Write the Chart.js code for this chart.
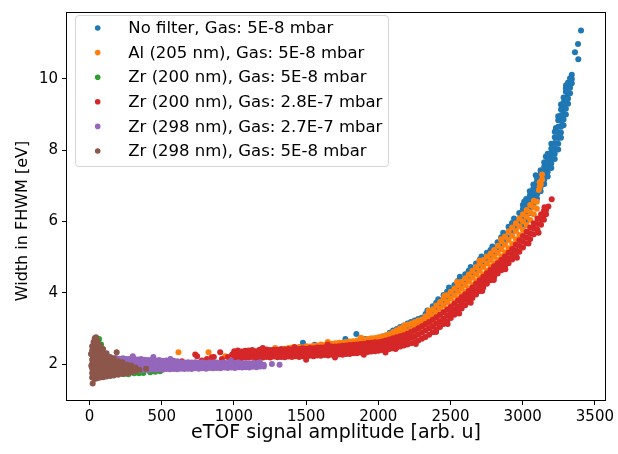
<!DOCTYPE html>
<html><head><meta charset="utf-8">
<script src="https://cdn.jsdelivr.net/npm/chart.js@4/dist/chart.umd.min.js"></script>
<style>html,body{margin:0;padding:0;background:#fff;}canvas{display:block;}</style>
</head><body>
<canvas id="c" width="618" height="454"></canvas>
<script>
const seriesLabels = [
  'No filter, Gas: 5E-8 mbar',
  'Al (205 nm), Gas: 5E-8 mbar',
  'Zr (200 nm), Gas: 5E-8 mbar',
  'Zr (200 nm), Gas: 2.8E-7 mbar',
  'Zr (298 nm), Gas: 2.7E-7 mbar',
  'Zr (298 nm), Gas: 5E-8 mbar'
];
const seriesColors = ['#1f77b4','#ff7f0e','#2ca02c','#d62728','#9467bd','#8c564b'];
const xTicks = [0,500,1000,1500,2000,2500,3000,3500];
const yTicks = [2,4,6,8,10];
const xTitle = 'eTOF signal amplitude [arb. u]';
const yTitle = 'Width in FHWM [eV]';

// Each row: [x, y1, y2, ...]  (points sharing the same signal amplitude)
const noFilter = [
  [1462,2.48],[1478,2.6],[1559,2.54],[1772,2.7],[1848,2.84],[1910,2.7],
  [2004,2.62,2.74],[2028,2.64,2.77],[2053,2.68,2.8],[2079,2.7,2.88],[2102,2.74,2.94],[2128,2.77,2.98],
  [2151,2.8,2.92,3.04],[2177,2.85,2.97,3.08],[2203,2.9,3.02,3.14],[2226,2.94,3.06,3.18],[2252,2.99,3.1,3.22],
  [2276,3.04,3.15,3.26],[2301,3.12,3.3],[2327,3.2,3.4],[2340,3.5],[2352,3.3,3.42],[2377,3.42,3.62],
  [2401,3.52,3.72],[2415,3.82],[2427,3.62,3.74],[2452,3.72,3.94],[2476,3.82,4.03],[2490,4.15],[2503,3.92,4.04],
  [2527,4.02,4.22],[2551,4.12,4.33],[2565,4.45],[2578,4.2,4.32],[2602,4.3,4.52],[2626,4.4,4.62],[2640,4.72],
  [2652,4.5,4.62],[2677,4.6,4.82],[2703,4.7,4.93],[2715,5.02],[2728,4.8,4.92],[2752,4.9,5.12],[2777,4.98,5.2],
  [2790,5.3],[2803,5.08,5.2],[2826,5.18,5.42],[2851,5.3,5.56],[2865,5.68],[2877,5.42,5.58],[2902,5.56,5.85],
  [2926,5.7,5.96],[2940,6.08],[2951,5.82,5.96],[2976,5.96,6.24],
  [3001,5.85,5.97,6.1,6.22,6.34,6.46],[3010,6.55],[3024,6.02,6.14,6.26,6.38,6.5,6.63],[3049,6.24,6.36,6.48,6.6,6.72,6.85],
  [3074,6.45,6.57,6.69,6.81,6.93,7.04],[3090,7.3],[3099,6.64,6.76,6.88,7.0,7.12,7.22],[3124,6.85,6.97,7.09,7.21,7.33,7.44],
  [3149,7.05,7.17,7.3,7.42,7.54,7.66],[3160,7.82],[3173,7.26,7.39,7.52,7.65,7.78,7.9],[3198,7.5,7.63,7.76,7.9,8.04,8.18],
  [3222,7.75,7.9,8.05,8.2,8.36,8.52],[3230,8.62],[3246,8.02,8.18,8.34,8.5,8.66,8.84,8.95],
  [3265,8.35,8.5,8.66,8.82,8.98,9.14,9.28],[3283,8.7,8.86,9.02,9.18,9.34,9.48],
  [3299,9.0,9.16,9.32,9.48,9.64,9.74],[3300,9.82],[3314,9.3,9.45,9.6,9.75,9.9],[3328,9.6,9.75,9.9,10.02],[3340,9.88,10.0,10.12],
  [3404,11.36],[3383,10.98],[3362,10.75],[3385,10.55]
];
const al205 = [
  [616,2.33],[824,2.33],[940,2.22],[1078,2.33],[1125,2.33],[1192,2.26],[1252,2.3],[1286,2.45],[1338,2.38],
  [1352,2.32,2.43],[1378,2.36,2.45],[1403,2.34,2.46],[1428,2.33,2.44],[1452,2.37,2.48],[1477,2.36,2.47],
  [1503,2.38,2.5],[1528,2.36,2.49],[1552,2.4,2.51],[1577,2.39,2.52],[1603,2.41,2.55],[1621,2.51],[1628,2.4,2.53],
  [1650,2.62],[1652,2.43,2.55],[1677,2.42,2.57],[1702,2.45,2.58],[1728,2.44,2.6],[1753,2.47,2.6],[1777,2.46,2.62],
  [1802,2.49,2.63],[1827,2.48,2.64],[1853,2.51,2.66],[1877,2.52,2.67],[1880,2.74],[1902,2.54,2.69],[1928,2.55,2.7],
  [1952,2.57,2.72],[1978,2.58,2.73],
  [2003,2.5,2.62,2.75],[2027,2.53,2.65,2.77],[2052,2.56,2.68,2.8],[2078,2.58,2.71,2.84],[2103,2.62,2.76,2.9],
  [2127,2.65,2.8,2.95],[2152,2.68,2.84,3.0],[2177,2.71,2.88,3.04],[2180,3.08],[2202,2.75,2.92,3.1],[2228,2.8,2.97,3.14],
  [2253,2.85,3.02,3.18],[2277,2.9,3.06,3.22],[2302,2.96,3.1,3.25],[2327,3.02,3.18,3.34],[2350,3.5],[2353,3.1,3.27,3.44],
  [2378,3.18,3.36,3.54],[2402,3.26,3.45,3.64],[2428,3.36,3.55,3.74],[2453,3.46,3.65,3.84],[2460,3.92],[2477,3.55,3.74,3.93],
  [2502,3.64,3.84,4.03],[2528,3.74,3.93,4.12],[2545,4.3],[2553,3.84,4.03,4.22],[2577,3.93,4.12,4.31],[2603,4.03,4.22,4.41],
  [2627,4.12,4.32,4.51],[2652,4.22,4.42,4.62],[2678,4.32,4.52,4.72],[2700,4.9],[2702,4.42,4.62,4.82],[2727,4.52,4.72,4.92],
  [2753,4.62,4.82,5.02],[2778,4.72,4.91,5.1],[2802,4.82,5.01,5.2],[2828,4.92,5.12,5.32],[2850,5.5],[2853,5.02,5.23,5.45],
  [2877,5.13,5.35,5.58],[2902,5.25,5.48,5.72],[2927,5.37,5.6,5.83],[2953,5.5,5.73,5.95],[2977,5.62,5.86,6.08],
  [3002,5.76,6.0,6.2],[3027,5.9,6.13,6.32],[3052,6.04,6.26,6.46],[3077,6.2,6.4,6.58],[3098,6.36,6.55],
  [3112,6.88],[3118,6.98,7.1],[3125,7.05],[3134,7.18,7.32]
];
const zr200Low = [
  [30,1.7,2.0,2.4],[60,2.3,2.6],[66,2.7],[80,2.55],[100,1.9],[120,1.7],[152,1.7],[200,1.72],[240,1.72],
  [269,1.71],[310,1.74],[342,1.74],[373,1.75],[420,1.77],[455,1.78],[489,1.8]
];
const zr200High = [
  [639,2.08],[732,2.27],[745,2.22],[778,2.1],[813,2.14],[847,2.19],[861,2.2],[905,2.33],[917,2.14],[958,2.2],[988,2.27],
  [1002,2.17,2.27,2.36],[1027,2.2,2.3,2.38],[1052,2.16,2.26,2.35],[1077,2.19,2.29,2.37],[1102,2.18,2.28,2.38],
  [1127,2.2,2.31,2.39],[1152,2.17,2.27,2.36],[1177,2.19,2.3,2.4],[1200,2.45],[1202,2.18,2.28,2.38],[1227,2.2,2.31,2.41],
  [1252,2.18,2.29,2.39],[1277,2.21,2.31,2.4],[1302,2.19,2.29,2.4],[1327,2.2,2.31,2.42],[1352,2.19,2.3,2.41],
  [1377,2.21,2.32,2.42],[1402,2.2,2.3,2.41],[1420,2.48],[1427,2.22,2.33,2.43],[1452,2.2,2.31,2.42],[1477,2.22,2.33,2.44],
  [1500,2.12],[1502,2.21,2.32,2.43],[1527,2.23,2.34,2.45],[1552,2.22,2.33,2.44],[1577,2.24,2.35,2.46],[1602,2.23,2.34,2.46],
  [1627,2.25,2.36,2.47],[1650,2.55],[1652,2.24,2.36,2.48],[1677,2.26,2.37,2.49],[1700,2.18],[1702,2.25,2.37,2.49],
  [1727,2.27,2.38,2.5],[1752,2.26,2.38,2.51],[1777,2.28,2.4,2.52],[1802,2.28,2.4,2.53],[1827,2.3,2.42,2.54],
  [1852,2.3,2.42,2.55],[1877,2.32,2.44,2.56],[1900,2.26],[1902,2.32,2.45,2.57],[1927,2.34,2.46,2.59],
  [1952,2.35,2.48,2.6],[1977,2.36,2.49,2.61],
  [2002,2.37,2.49,2.61],[2027,2.39,2.51,2.63],[2050,2.32],[2052,2.4,2.53,2.66],[2077,2.42,2.55,2.69],
  [2102,2.44,2.58,2.72],[2120,2.42],[2127,2.46,2.6,2.75],[2152,2.49,2.63,2.78],[2177,2.52,2.67,2.81],
  [2202,2.55,2.7,2.85],[2227,2.58,2.74,2.9],[2252,2.62,2.78,2.95],[2260,2.56],[2277,2.66,2.83,3.0],
  [2302,2.71,2.88,3.06],[2327,2.76,2.94,3.12],[2352,2.82,3.0,3.18],[2377,2.89,3.06,3.24],[2400,2.9],
  [2402,2.96,3.13,3.31],[2427,3.04,3.2,3.38],[2452,3.12,3.28,3.45],[2477,3.2,3.36,3.52],[2480,3.12],
  [2502,3.29,3.44,3.6],[2527,3.38,3.53,3.69],[2552,3.47,3.62,3.78],[2560,3.42],[2577,3.56,3.71,3.87],
  [2602,3.65,3.8,3.96],[2627,3.75,3.9,4.05],[2640,3.72],[2652,3.85,4.0,4.15],[2677,3.95,4.1,4.25],
  [2702,4.05,4.2,4.35],[2720,4.05],[2727,4.15,4.3,4.45],[2752,4.25,4.4,4.55],[2777,4.35,4.5,4.64],
  [2800,4.36],[2802,4.44,4.59,4.74],[2827,4.54,4.68,4.83],[2852,4.63,4.77,4.92],[2877,4.73,4.87,5.02],
  [2880,4.66],[2902,4.83,4.97,5.12],[2927,4.93,5.08,5.23],[2952,5.04,5.19,5.35],[2960,4.98],
  [2977,5.15,5.31,5.47],[3002,5.27,5.43,5.59],[3027,5.39,5.55,5.71],[3040,5.38],[3052,5.51,5.67,5.83],
  [3077,5.64,5.8,5.95],[3102,5.77,5.93,6.08],[3110,5.68],[3127,5.91,6.06,6.2],[3147,6.05,6.18,6.3],[3162,6.2,6.32],
  [3178,6.42],[3151,6.4],[3201,6.62]
];
const zr298High = [
  [108,1.86,1.97,2.08,2.17],[132,1.83,1.94,2.05,2.16],[157,1.82,1.93,2.04,2.15],[182,1.84,1.95,2.06,2.17],
  [207,1.82,1.93,2.04,2.15],[232,1.83,1.94,2.05,2.16],[257,1.82,1.93,2.04,2.14],[282,1.84,1.95,2.06,2.15],
  [300,2.22],[307,1.82,1.93,2.04,2.14],[332,1.84,1.94,2.05,2.13],[357,1.83,1.94,2.04,2.14],[382,1.84,1.95,2.05,2.12],
  [407,1.83,1.94,2.04,2.11],[432,1.85,1.95,2.05,2.12],[442,2.2],[457,1.84,1.94,2.04,2.1],[482,1.85,1.95,2.05,2.11],
  [507,1.84,1.94,2.03,2.09],[532,1.86,1.96,2.05,2.1],[557,1.85,1.95,2.04,2.08],[560,2.14],[582,1.86,1.96,2.05,2.09],
  [607,1.85,1.95,2.04,2.08],[632,1.87,1.96,2.05],[657,1.86,1.95,2.04],[682,1.87,1.96,2.05],[707,1.86,1.95,2.04],
  [732,1.88,1.97,2.05],[757,1.87,1.96,2.04],[782,1.88,1.97,2.05],[807,1.87,1.96,2.03],[832,1.89,1.97,2.04],
  [857,1.88,1.96,2.04],[882,1.89,1.97,2.04],[907,1.88,1.96,2.03],[932,1.9,1.98,2.04],[957,1.89,1.97,2.03],
  [980,2.09],[982,1.9,1.98,2.04],[1007,1.89,1.97,2.03],[1032,1.91,1.98,2.04],[1057,1.9,1.97,2.02],[1082,1.91,1.98,2.03],
  [1107,1.9,1.97,2.02],[1132,1.92,1.99,2.03],[1157,1.91,1.98,2.02],[1180,2.05],[1182,1.93,1.99],[1207,1.93,1.98],
  [1263,2.0],[1316,1.98]
];
const zr298Low = [
  [18,1.62,1.75,1.88,2.0,2.12,2.25,2.38,2.5],[10,2.28],[12,1.95],[28,2.62],[45,2.75],
  [36,1.58,1.7,1.82,1.95,2.08,2.2,2.33,2.46,2.58,2.72],[54,1.6,1.72,1.85,1.98,2.1,2.24,2.36,2.5,2.64],
  [73,1.62,1.74,1.87,2.0,2.13,2.27,2.4,2.52],[94,1.63,1.76,1.9,2.03,2.16,2.3,2.42],[118,1.65,1.78,1.92,2.05,2.18,2.3],
  [143,1.66,1.8,1.93,2.06,2.2],[168,1.68,1.8,1.94,2.07,2.16],[198,1.7,1.82,1.95,2.08],[228,1.72,1.84,1.96,2.05],
  [258,1.74,1.86,1.98],[288,1.76,1.88,1.96],[318,1.8,1.9],[345,1.84],
  [22,1.45],[188,2.33],[392,1.87]
];

const seriesRows = [noFilter, al205, zr200Low, zr200High, zr298High, zr298Low];

function toPoints(rows){
  const pts = [];
  rows.forEach(r => { for (let i = 1; i < r.length; i++) pts.push({x: r[0], y: r[i]}); });
  return pts;
}

const FONT = "'DejaVu Sans', 'Liberation Sans', sans-serif";
const R = 3.0;

const datasets = seriesRows.map((rows, i) => ({
  label: seriesLabels[i],
  data: toPoints(rows),
  backgroundColor: seriesColors[i],
  borderColor: seriesColors[i],
  borderWidth: 0,
  pointRadius: R,
  pointHoverRadius: R,
  pointBorderWidth: 0,
  showLine: false,
  order: seriesRows.length - i
}));

const framePlugin = {
  id: 'frame',
  afterDatasetsDraw(chart){
    const {ctx, chartArea: a} = chart;
    ctx.save();
    ctx.strokeStyle = '#000';
    ctx.lineWidth = 1;
    ctx.strokeRect(a.left - 0.5, a.top - 0.5, a.right - a.left + 1, a.bottom - a.top + 1);
    ctx.restore();
  }
};

const yTitlePlugin = {
  id: 'yTitle',
  afterDraw(chart){
    const ctx = chart.ctx;
    ctx.save();
    ctx.translate(23, 221);
    ctx.rotate(-Math.PI / 2);
    ctx.font = '16px ' + FONT;
    ctx.fillStyle = '#000';
    ctx.textAlign = 'center';
    ctx.textBaseline = 'middle';
    ctx.fillText(yTitle, 0, 0);
    ctx.restore();
  }
};

const legendPlugin = {
  id: 'boxLegend',
  afterDraw(chart){
    const ctx = chart.ctx;
    ctx.save();
    const bx = 75.5, by = 15.5, bw = 313, bh = 151, r = 3.5;
    ctx.beginPath();
    ctx.moveTo(bx + r, by);
    ctx.lineTo(bx + bw - r, by);
    ctx.quadraticCurveTo(bx + bw, by, bx + bw, by + r);
    ctx.lineTo(bx + bw, by + bh - r);
    ctx.quadraticCurveTo(bx + bw, by + bh, bx + bw - r, by + bh);
    ctx.lineTo(bx + r, by + bh);
    ctx.quadraticCurveTo(bx, by + bh, bx, by + bh - r);
    ctx.lineTo(bx, by + r);
    ctx.quadraticCurveTo(bx, by, bx + r, by);
    ctx.closePath();
    ctx.fillStyle = 'rgba(255,255,255,0.8)';
    ctx.fill();
    ctx.strokeStyle = '#d6d6d6';
    ctx.lineWidth = 1;
    ctx.stroke();
    ctx.font = '16.5px ' + FONT;
    ctx.textBaseline = 'middle';
    ctx.textAlign = 'left';
    seriesLabels.forEach((lab, i) => {
      const cy = 28 + i * 24.6;
      ctx.fillStyle = seriesColors[i];
      ctx.beginPath();
      ctx.arc(97.7, cy, 2.8, 0, Math.PI * 2);
      ctx.fill();
      ctx.fillStyle = '#000';
      ctx.fillText(lab, 128.3, cy + 1);
    });
    ctx.restore();
  }
};

new Chart(document.getElementById('c'), {
  type: 'scatter',
  data: { datasets },
  options: {
    responsive: false,
    animation: false,
    devicePixelRatio: 1,
    events: [],
    layout: { padding: { top: 7, right: 13, left: 0, bottom: 0 } },
    plugins: { legend: { display: false }, tooltip: { enabled: false } },
    scales: {
      x: {
        type: 'linear', position: 'bottom', min: -156, max: 3570,
        afterFit(s){ s.height = 54; },
        afterBuildTicks(s){ s.ticks = xTicks.map(v => ({value: v})); },
        grid: { display: true, drawOnChartArea: false, drawTicks: true, tickLength: 5, tickColor: '#000', tickWidth: 1 },
        border: { display: false },
        ticks: { color: '#000', font: { family: FONT, size: 15 }, padding: 3, maxRotation: 0, autoSkip: false,
                 callback: v => String(v) },
        title: { display: true, text: xTitle, color: '#000',
                 font: { family: FONT, size: 19 }, padding: { top: 0, bottom: 10 } }
      },
      y: {
        type: 'linear', position: 'left', min: 0.99, max: 11.85,
        afterFit(s){ s.width = 67; },
        afterBuildTicks(s){ s.ticks = yTicks.map(v => ({value: v})); },
        grid: { display: true, drawOnChartArea: false, drawTicks: true, tickLength: 5, tickColor: '#000', tickWidth: 1 },
        border: { display: false },
        ticks: { color: '#000', font: { family: FONT, size: 15 }, padding: 4, autoSkip: false,
                 callback: v => String(v) },
        title: { display: false }
      }
    }
  },
  plugins: [framePlugin, yTitlePlugin, legendPlugin]
});
</script>
</body></html>
